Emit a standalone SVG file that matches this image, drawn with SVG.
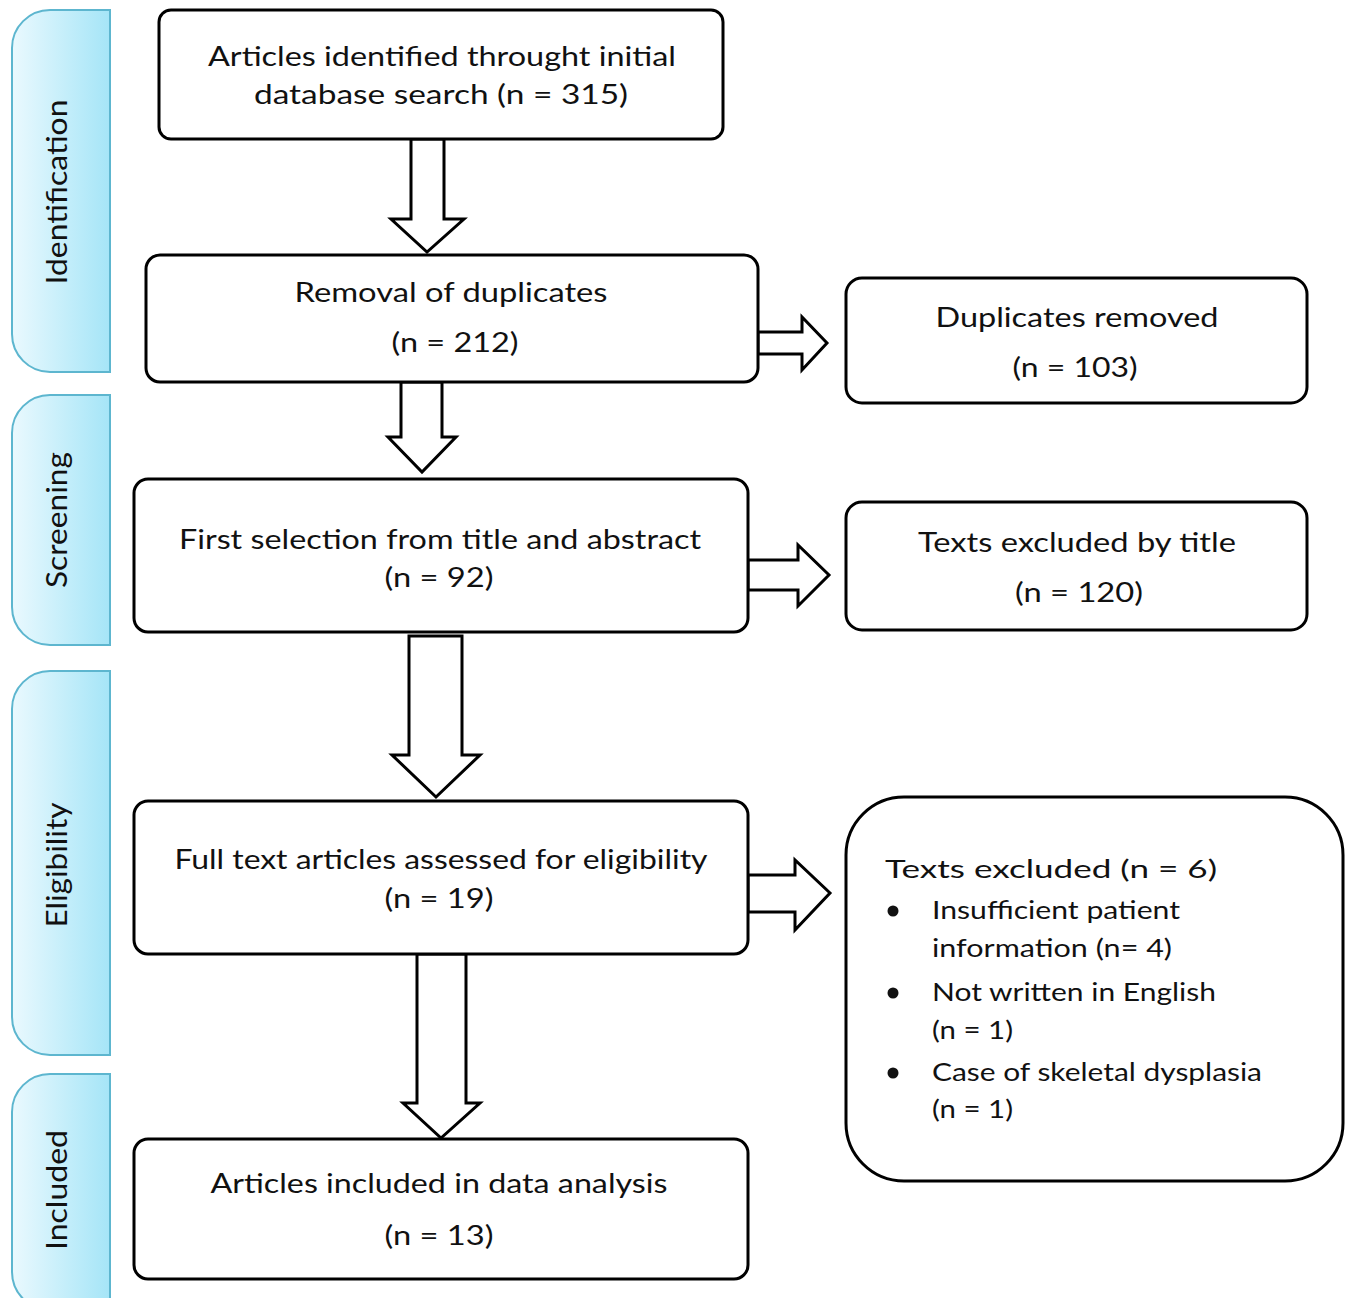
<svg xmlns="http://www.w3.org/2000/svg" width="1348" height="1298" viewBox="0 0 1348 1298">
<style>
.box{fill:#fff;stroke:#000;stroke-width:3}
.arr{fill:#fff;stroke:#000;stroke-width:3;stroke-linejoin:miter}
.tab{fill:url(#tabg);stroke:#5db6cf;stroke-width:2}
.t{font-family:Lato,"Liberation Sans",sans-serif;font-size:27px;fill:#111;text-anchor:middle}
.tl{font-family:Lato,"Liberation Sans",sans-serif;font-size:25px;fill:#111}
.side{font-family:Lato,"Liberation Sans",sans-serif;font-size:28px;fill:#111;text-anchor:middle}
</style>
<defs>
<linearGradient id="tabg" x1="0" y1="0" x2="1" y2="0">
<stop offset="0" stop-color="#eaf9fe"/>
<stop offset="1" stop-color="#a5e5f7"/>
</linearGradient>
</defs>
<rect width="1348" height="1298" fill="#fff"/>

<g id="tab-identification">
<path class="tab" d="M110,10 L50,10 A38,38 0 0 0 12,48 L12,334 A38,38 0 0 0 50,372 L110,372 Z"/>
<text class="side" transform="translate(67,192) rotate(-90)" textLength="185" lengthAdjust="spacingAndGlyphs">Identification</text>
</g>
<g id="tab-screening">
<path class="tab" d="M110,395 L50,395 A38,38 0 0 0 12,433 L12,607 A38,38 0 0 0 50,645 L110,645 Z"/>
<text class="side" transform="translate(67,520) rotate(-90)" textLength="136" lengthAdjust="spacingAndGlyphs">Screening</text>
</g>
<g id="tab-eligibility">
<path class="tab" d="M110,671 L50,671 A38,38 0 0 0 12,709 L12,1017 A38,38 0 0 0 50,1055 L110,1055 Z"/>
<text class="side" transform="translate(67,865) rotate(-90)" textLength="125" lengthAdjust="spacingAndGlyphs">Eligibility</text>
</g>
<g id="tab-included">
<path class="tab" d="M110,1074 L50,1074 A38,38 0 0 0 12,1112 L12,1272 A38,38 0 0 0 50,1310 L110,1310 Z"/>
<text class="side" transform="translate(67,1190) rotate(-90)" textLength="120" lengthAdjust="spacingAndGlyphs">Included</text>
</g>

<g id="connectors">
<polygon class="arr" points="411,139 411,219 391,219 427,252 464,219 444,219 444,139"/>
<polygon class="arr" points="401,382 401,437 388,437 422,472 456,437 442,437 442,382"/>
<polygon class="arr" points="409,636 409,755 392,755 436,797 480,755 462,755 462,636"/>
<polygon class="arr" points="417,954 417,1103 403,1103 441,1138 480,1103 466,1103 466,954"/>
<polygon class="arr" points="758,332 802,332 802,317 827,343 802,370 802,354 758,354"/>
<polygon class="arr" points="748,560 798,560 798,545 829,575 798,606 798,590 748,590"/>
<polygon class="arr" points="748,875 795,875 795,860 830,893 795,930 795,912 748,912"/>
</g>

<g id="n1">
<rect class="box" x="159" y="10" width="564" height="129" rx="12"/>
<text class="t" x="442" y="66" textLength="468" lengthAdjust="spacingAndGlyphs">Articles  identified  throught  initial</text>
<text class="t" x="441" y="104" textLength="374" lengthAdjust="spacingAndGlyphs">database search (n =  315)</text>
</g>
<g id="n2">
<rect class="box" x="146" y="255" width="612" height="127" rx="14"/>
<text class="t" x="451" y="302" textLength="313" lengthAdjust="spacingAndGlyphs">Removal of duplicates</text>
<text class="t" x="455" y="352" textLength="127" lengthAdjust="spacingAndGlyphs">(n = 212)</text>
</g>
<g id="n3">
<rect class="box" x="846" y="278" width="461" height="125" rx="16"/>
<text class="t" x="1077" y="327" textLength="283" lengthAdjust="spacingAndGlyphs">Duplicates removed</text>
<text class="t" x="1075" y="377" textLength="125" lengthAdjust="spacingAndGlyphs">(n = 103)</text>
</g>
<g id="n4">
<rect class="box" x="134" y="479" width="614" height="153" rx="14"/>
<text class="t" x="440" y="549" textLength="522" lengthAdjust="spacingAndGlyphs">First selection  from title  and abstract</text>
<text class="t" x="439" y="587" textLength="109" lengthAdjust="spacingAndGlyphs">(n = 92)</text>
</g>
<g id="n5">
<rect class="box" x="846" y="502" width="461" height="128" rx="16"/>
<text class="t" x="1077" y="552" textLength="318" lengthAdjust="spacingAndGlyphs">Texts excluded by title</text>
<text class="t" x="1079" y="602" textLength="128" lengthAdjust="spacingAndGlyphs">(n = 120)</text>
</g>
<g id="n6">
<rect class="box" x="134" y="801" width="614" height="153" rx="14"/>
<text class="t" x="441" y="869" textLength="533" lengthAdjust="spacingAndGlyphs">Full text articles  assessed  for eligibility</text>
<text class="t" x="439" y="908" textLength="109" lengthAdjust="spacingAndGlyphs">(n = 19)</text>
</g>
<g id="n7">
<rect class="box" x="846" y="797" width="497" height="384" rx="58"/>
<text class="tl" x="885" y="878" font-size="32" textLength="332" lengthAdjust="spacingAndGlyphs">Texts excluded (n = 6)</text>
<circle cx="893" cy="911" r="5.5" fill="#111"/>
<circle cx="893" cy="993" r="5.5" fill="#111"/>
<circle cx="893" cy="1073" r="5.5" fill="#111"/>
<text class="tl" x="932" y="919" textLength="248" lengthAdjust="spacingAndGlyphs">Insufficient patient</text>
<text class="tl" x="932" y="957" textLength="240" lengthAdjust="spacingAndGlyphs">information (n= 4)</text>
<text class="tl" x="932" y="1001" textLength="284" lengthAdjust="spacingAndGlyphs">Not written in English</text>
<text class="tl" x="932" y="1039" textLength="81" lengthAdjust="spacingAndGlyphs">(n = 1)</text>
<text class="tl" x="932" y="1081" textLength="330" lengthAdjust="spacingAndGlyphs">Case of skeletal dysplasia</text>
<text class="tl" x="932" y="1118" textLength="81" lengthAdjust="spacingAndGlyphs">(n = 1)</text>
</g>
<g id="n8">
<rect class="box" x="134" y="1139" width="614" height="140" rx="14"/>
<text class="t" x="439" y="1193" textLength="457" lengthAdjust="spacingAndGlyphs">Articles  included  in data analysis</text>
<text class="t" x="439" y="1245" textLength="109" lengthAdjust="spacingAndGlyphs">(n = 13)</text>
</g>
</svg>
